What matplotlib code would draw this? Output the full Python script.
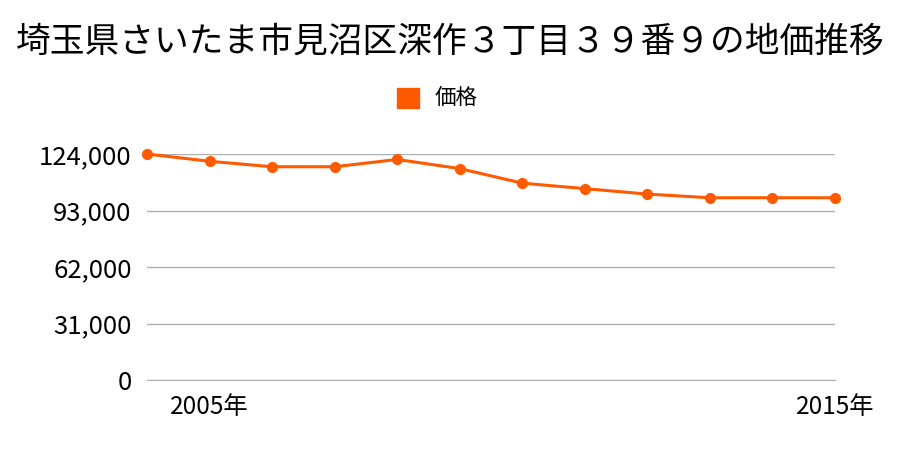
import matplotlib
matplotlib.use("Agg")
import matplotlib.pyplot as plt

plt.rcParams['font.family'] = ['Noto Sans CJK JP', 'DejaVu Sans']

years = [2004, 2005, 2006, 2007, 2008, 2009, 2010, 2011, 2012, 2013, 2014, 2015]
prices = [124000, 120000, 117000, 117000, 121000, 116000, 108000, 105000, 102000, 100000, 100000, 100000]
yticks = [0, 31000, 62000, 93000, 124000]
xtick_years = [2005, 2015]
title = "埼玉県さいたま市見沼区深作３丁目３９番９の地価推移"
series_name = "価格"
color = "#ff5a00"

fig = plt.figure(figsize=(9, 4.5), dpi=100)
ax = fig.add_axes([147/900, 1-380/450, (835-147)/900, (380-154)/450])
ax.plot(years, prices, color=color, lw=2.2, marker='o', ms=7, clip_on=False, zorder=3)
ax.set_xlim(years[0], years[-1])
ax.set_ylim(0, 124000)
ax.set_yticks(yticks)
ax.set_yticklabels([f"{v:,}" for v in yticks])
ax.set_xticks(xtick_years)
ax.set_xticklabels([f"{y}年" for y in xtick_years])
ax.grid(axis='y', color='#b0b0b0', lw=1)
for s in ['top', 'right', 'left']:
    ax.spines[s].set_visible(False)
ax.spines['bottom'].set_color('#b0b0b0')
ax.tick_params(axis='y', length=0, pad=11, labelsize=18.5)
ax.tick_params(axis='x', length=0, pad=10, labelsize=17.5)
fig.suptitle(title, y=1-42/450, va='center', fontsize=25)
fig.patches.append(plt.Rectangle((397/900, 1-108/450), 22/900, 20/450, transform=fig.transFigure, color=color))
fig.text(435/900, 1-98/450, series_name, va='center', fontsize=15.5)
fig.savefig("out.png", dpi=100)
